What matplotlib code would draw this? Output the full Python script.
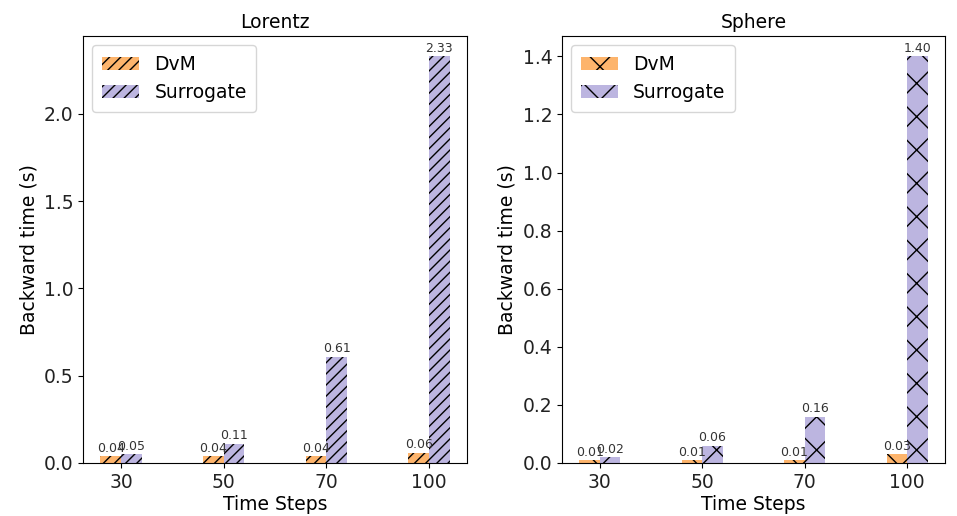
import numpy as np
import matplotlib
matplotlib.use("Agg")
import matplotlib.pyplot as plt

STEPS = ["30", "50", "70", "100"]
LORENTZ_DVM = [0.04, 0.04, 0.04, 0.06]
LORENTZ_SUR = [0.05, 0.11, 0.61, 2.33]
SPHERE_DVM = [0.01, 0.01, 0.01, 0.03]
SPHERE_SUR = [0.02, 0.06, 0.16, 1.40]

ORANGE = "#fdb46c"
PURPLE = "#bcb5e0"
W = 0.2
FS = 13.5

plt.rcParams["hatch.linewidth"] = 1.0

fig = plt.figure(figsize=(9.57, 5.16), dpi=100)
b, h = 53 / 516, 427 / 516
ax1 = fig.add_axes([83 / 957, b, 384 / 957, h])
ax2 = fig.add_axes([562 / 957, b, 383 / 957, h])

panels = [(ax1, "Lorentz", LORENTZ_DVM, LORENTZ_SUR, "///"),
          (ax2, "Sphere", SPHERE_DVM, SPHERE_SUR, "x")]
x = np.arange(len(STEPS))
for ax, title, dvm, sur, hatch in panels:
    b1 = ax.bar(x - W / 2, dvm, W, color=ORANGE, edgecolor="black", lw=0, hatch=hatch, label="DvM")
    b2 = ax.bar(x + W / 2, sur, W, color=PURPLE, edgecolor="black", lw=0, hatch=hatch, label="Surrogate")
    ax.bar_label(b1, fmt="%.2f", fontsize=9, padding=1, color="#333333")
    ax.bar_label(b2, fmt="%.2f", fontsize=9, padding=1, color="#333333")
    ax.set_xticks(x, STEPS, fontsize=FS, color="#222222")
    ax.tick_params(axis="y", labelsize=FS, labelcolor="#222222")
    ax.set_xlabel("Time Steps", fontsize=FS, labelpad=2)
    ax.set_ylabel("Backward time (s)", fontsize=FS)
    ax.set_title(title, fontsize=FS)
    ax.legend(loc="upper left", fontsize=FS, handlelength=2.0, borderpad=0.5)

fig.savefig("out.png", dpi=100)
